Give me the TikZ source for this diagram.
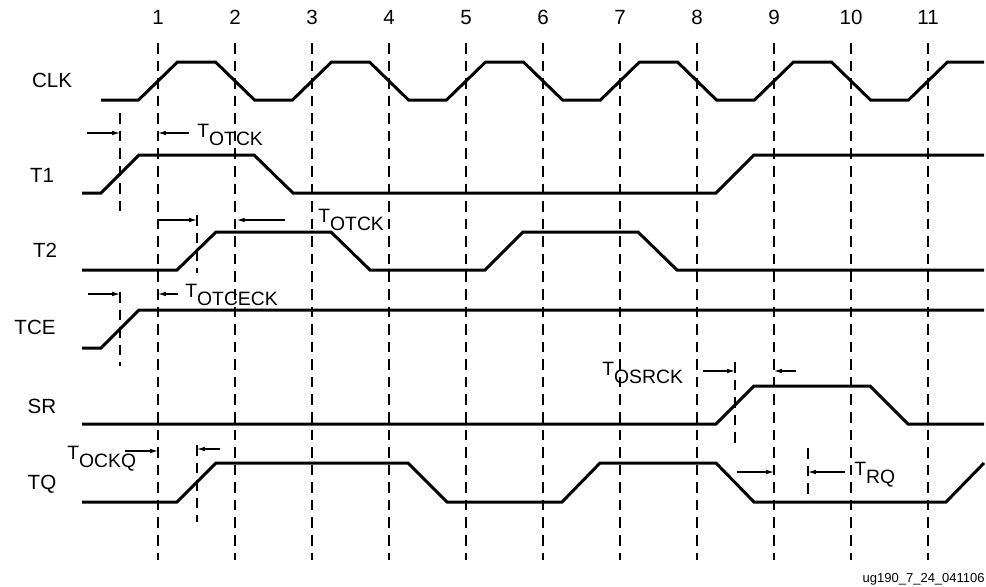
\documentclass[tikz,border=0pt]{standalone}
\usepackage{fontspec}
\setmainfont{Liberation Sans}
\usetikzlibrary{arrows.meta}
\newcommand{\tdelay}[1]{T\raisebox{-5pt}{#1}}

\begin{document}
\begin{tikzpicture}[
    x=0.02cm, y=-0.02cm,
    every node/.style={font=\fontsize{11}{13}\selectfont, inner sep=0pt},
    sig/.style={line width=1.7pt, line join=miter},
    grid/.style={line width=0.6pt, dash pattern=on 6pt off 4pt},
    refline/.style={line width=0.6pt, dash pattern=on 6pt off 4pt},
    dim/.style={line width=0.6pt, -{Latex[length=4.5pt,width=2.6pt]}},
    signame/.style={anchor=base, font=\fontsize{11.7}{14}\selectfont},
    delay/.style={anchor=base west}
]
\useasboundingbox (0,0) rectangle (986,586);

% cycle numbers and grid
\foreach \k in {1,...,11} {
    \node[signame] (num\k) at (81+77*\k,24) {\k};
    \coordinate (gt\k) at (81+77*\k,43);
    \coordinate (gb\k) at (81+77*\k,560);
    \draw[grid] (gt\k) -- (gb\k);
}

% signal names
\node[signame] (clk) at (52,87) {CLK};
\node[signame] (t1) at (42,182) {T1};
\node[signame] (t2) at (45,257) {T2};
\node[signame] (tce) at (35,334) {TCE};
\node[signame] (sr) at (42,413) {SR};
\node[signame] (tq) at (42,489) {TQ};

% waveforms
\draw[sig] (101,100) foreach \k in {1,3,5,7,9} {
    -- ({81+77*\k-19.5},100) -- ({81+77*\k+19.5},62)
    -- ({158+77*\k-19.5},62) -- ({158+77*\k+19.5},100)}
    -- (908.5,100) -- (947.5,62) -- (984,62);
\draw[sig] (82,193) -- (101,193) -- (139,155) -- (254,155) -- (293,193)
    -- (716,193) -- (754,155) -- (984,155);
\draw[sig] (82,270) -- (177,270) -- (216,232) -- (331,232) -- (370,270)
    -- (485,270) -- (523,232) -- (638,232) -- (677,270) -- (984,270);
\draw[sig] (82,348) -- (101,348) -- (139,310) -- (984,310);
\draw[sig] (82,424) -- (716,424) -- (754,386) -- (870,386) -- (908,424) -- (984,424);
\draw[sig] (82,502) -- (177,502) -- (216,463) -- (408,463) -- (447,502)
    -- (562,502) -- (600,463) -- (716,463) -- (754,502) -- (946,502) -- (984,463);

% reference lines for the delays
\coordinate (r1a) at (120,113);  \coordinate (r1b) at (120,213);
\coordinate (r2a) at (120,292);  \coordinate (r2b) at (120,366);
\coordinate (r3a) at (197,215);  \coordinate (r3b) at (197,273);
\coordinate (r4a) at (197,445);  \coordinate (r4b) at (197,522);
\coordinate (r5a) at (735,362);  \coordinate (r5b) at (735,443);
\coordinate (r6a) at (808,448);  \coordinate (r6b) at (808,502);
\foreach \r in {1,...,6}
    \draw[refline] (r\r a) -- (r\r b);

% delay arrows
\coordinate (d1a) at (87,133);   \coordinate (d1b) at (189,133);
\draw[dim] (d1a) -- (r1a |- d1a);
\draw[dim] (d1b) -- (gt1 |- d1b);
\node[delay] (otck1) at (197,137) {\tdelay{OTCK}};

\coordinate (d2a) at (158,220);  \coordinate (d2b) at (285,220);
\draw[dim] (d2a) -- (r3a |- d2a);
\draw[dim] (d2b) -- ([xshift=1]gt2 |- d2b);
\node[delay] (otck2) at (318,222) {\tdelay{OTCK}};

\coordinate (d3a) at (88,294);   \coordinate (d3b) at (178,294);
\draw[dim] (d3a) -- (r2a |- d3a);
\draw[dim] (d3b) -- (gt1 |- d3b);
\node[delay] (otceck) at (185,297) {\tdelay{OTCECK}};

\coordinate (d4a) at (703,371);  \coordinate (d4b) at (796,371);
\draw[dim] (d4a) -- (r5a |- d4a);
\draw[dim] (d4b) -- (gt9 |- d4b);
\node[delay] (osrck) at (602,375) {\tdelay{OSRCK}};

\coordinate (d5a) at (125,451);  \coordinate (d5b) at (220,449);
\draw[dim] (d5a) -- (gt1 |- d5a);
\draw[dim] (d5b) -- (r4a |- d5b);
\node[delay] (ockq) at (67,459) {\tdelay{OCKQ}};

\coordinate (d6a) at (737,472);  \coordinate (d6b) at (845,472);
\draw[dim] (d6a) -- (gt9 |- d6a);
\draw[dim] (d6b) -- (r6a |- d6b);
\node[delay] (rq) at (854,475) {\tdelay{RQ}};

\node[anchor=base east, font=\fontsize{7.4}{9}\selectfont] (figid) at (985,582) {ug190\_7\_24\_041106};
\end{tikzpicture}
\end{document}
